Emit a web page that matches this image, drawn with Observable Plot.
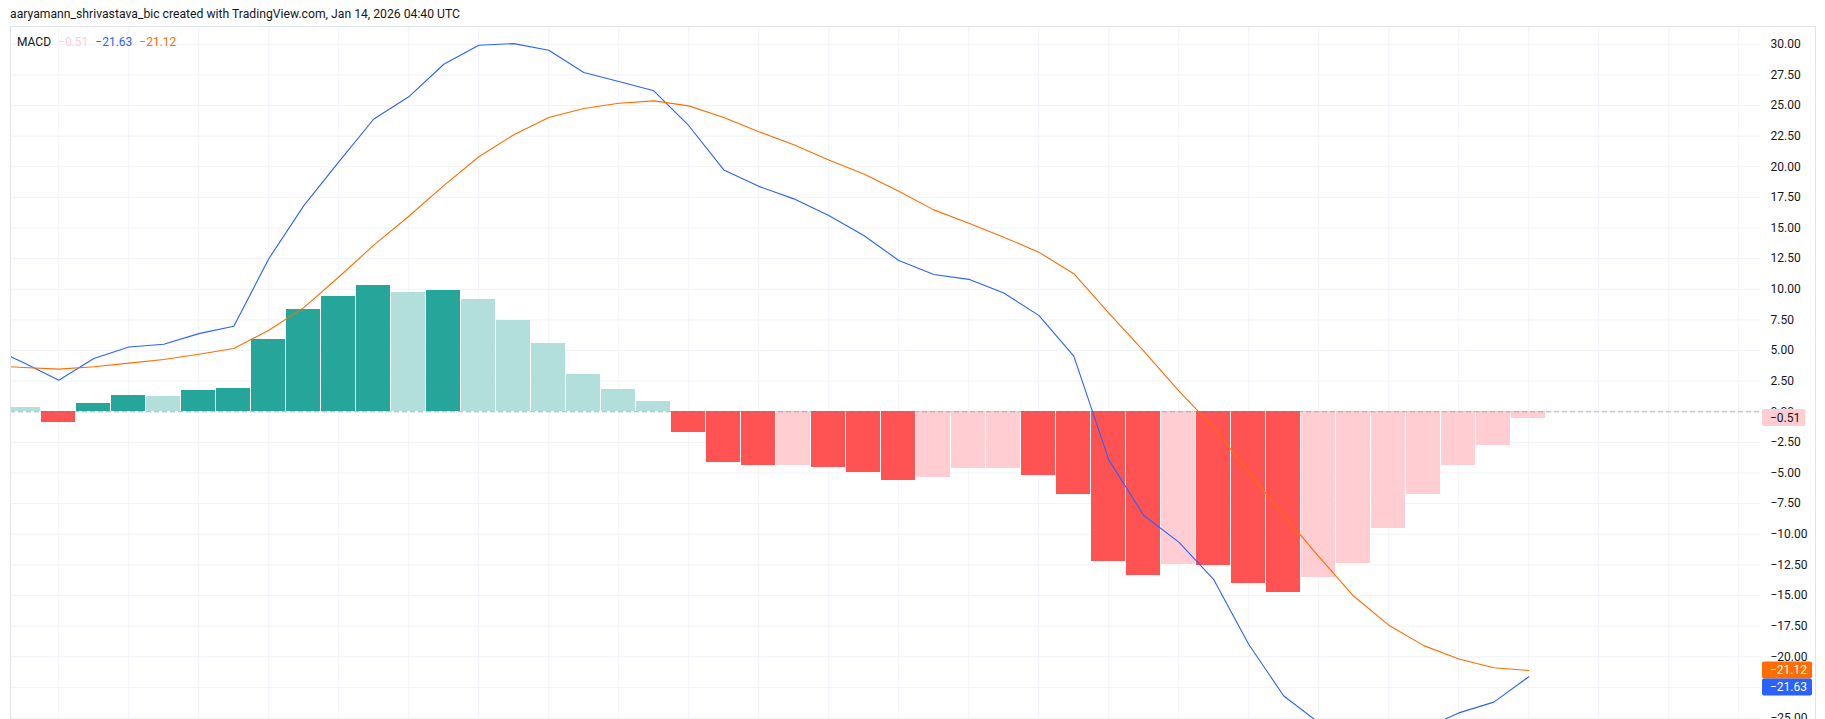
<!DOCTYPE html>
<html>
<head>
<meta charset="utf-8">
<script src="https://cdn.jsdelivr.net/npm/d3@7"></script>
<script src="https://cdn.jsdelivr.net/npm/@observablehq/plot@0.6"></script>
<style>
html, body { margin: 0; padding: 0; background: #ffffff; }
#wrap { position: relative; width: 1825px; height: 719px; overflow: hidden;
  font-family: Roboto, "Liberation Sans", sans-serif; color: #131722; }
#chart { position: absolute; left: 0; top: 0; }
#border { position: absolute; left: 10px; top: 26px; width: 1804px; height: 720px;
  border: 1px solid #E0E3EB; pointer-events: none; }
#header { position: absolute; left: 10px; top: 6px; font-size: 12.2px; line-height: 16px; white-space: nowrap; }
#legend { position: absolute; left: 17px; top: 34px; font-size: 12px; line-height: 16px; white-space: nowrap; }
#legend span { margin-right: 7px; }
</style>
</head>
<body>
<div id="wrap">
  <div id="chart"></div>
  <div id="border"></div>
  <div id="header"></div>
  <div id="legend"></div>
</div>
<script>
// ---- Data (bar index -1 is just off the left edge) ----
const barIndex = d3.range(-1, 44);
const histogram = [
  1.58, 0.38, -0.90, 0.71, 1.36, 1.28, 1.77, 1.93, 5.92, 8.36,
  9.42, 10.31, 9.75, 9.91, 9.17, 7.46, 5.59, 3.07, 1.85, 0.87,
  -1.72, -4.16, -4.41, -4.38, -4.57, -4.97, -5.63, -5.38, -4.67, -4.59,
  -5.22, -6.77, -12.24, -13.38, -12.47, -12.51, -14.03, -14.76, -13.55, -12.41,
  -9.56, -6.78, -4.42, -2.79, -0.51
];
const macdLine = [
  5.33, 4.00, 2.58, 4.35, 5.29, 5.51, 6.38, 6.98, 12.49, 16.83,
  20.40, 23.90, 25.71, 28.37, 29.92, 30.05, 29.51, 27.69, 26.96, 26.20,
  23.35, 19.74, 18.40, 17.38, 16.02, 14.39, 12.35, 11.21, 10.81, 9.69,
  7.87, 4.54, -3.93, -8.47, -10.64, -13.71, -19.00, -23.20, -25.38, -27.47,
  -26.98, -25.87, -24.58, -23.70, -21.63
];
const signalLine = [
  3.75, 3.62, 3.48, 3.67, 3.97, 4.27, 4.70, 5.16, 6.65, 8.50,
  11.00, 13.60, 15.96, 18.46, 20.82, 22.61, 24.02, 24.76, 25.19, 25.38,
  24.97, 24.02, 22.86, 21.80, 20.55, 19.41, 18.00, 16.48, 15.39, 14.25,
  13.03, 11.27, 8.06, 4.95, 1.70, -1.30, -4.95, -8.46, -11.83, -15.06,
  -17.42, -19.09, -20.18, -20.90, -21.12
];
const yTicks = d3.range(-25, 30.01, 2.5);
const xGrid = d3.range(1, 50, 2);
const headerText = "aaryamann_shrivastava_bic created with TradingView.com, Jan 14, 2026 04:40 UTC";
const indicatorName = "MACD";

// ---- Colours ----
const C = { up: "#26A69A", upFade: "#B2DFDB", down: "#FF5252", downFade: "#FFCDD2",
  macd: "#2962FF", signal: "#FF6D00", grid: "#F0F3FA", text: "#131722" };

const rows = barIndex.map((i, k) => ({
  i, hist: histogram[k], macd: macdLine[k], signal: signalLine[k],
  prev: k > 0 ? histogram[k - 1] : histogram[k]
}));
const barColor = d => d.hist >= 0
  ? (d.hist > d.prev ? C.up : C.upFade)
  : (d.hist < d.prev ? C.down : C.downFade);

const fmt = d3.format(".2f");
const FONT = 'Roboto, "Liberation Sans", sans-serif';

const plot = Plot.plot({
  width: 1825,
  height: 719,
  marginTop: 26,
  marginBottom: 0,
  marginLeft: 10,
  marginRight: 65,
  style: { fontFamily: FONT, fontSize: "12px", color: C.text, background: "transparent", overflow: "visible" },
  x: { type: "linear", domain: [-0.38, 49.62], axis: null },
  y: { domain: [-25.12, 31.45] },
  marks: [
    Plot.gridY(yTicks, { stroke: C.grid, strokeOpacity: 1 }),
    Plot.gridX(xGrid, { stroke: C.grid, strokeOpacity: 1 }),
    Plot.rect(rows, {
      x1: d => d.i - 0.5, x2: d => d.i + 0.5, y1: 0, y2: "hist",
      fill: barColor, insetLeft: 0.5, insetRight: 0.5, clip: true, shapeRendering: "crispEdges"
    }),
    Plot.ruleY([0], { stroke: "#787B86", strokeOpacity: 0.55, strokeDasharray: "5,3" }),
    Plot.line(rows, { x: "i", y: "macd", stroke: C.macd, strokeWidth: 1.1, clip: true }),
    Plot.line(rows, { x: "i", y: "signal", stroke: C.signal, strokeWidth: 1.1, clip: true }),
    Plot.axisY(yTicks, {
      anchor: "right", tickSize: 0, tickPadding: 10, tickFormat: fmt,
      fontSize: 12, fill: C.text, label: null
    })
  ]
});
document.getElementById("chart").appendChild(plot);

// ---- Header & legend ----
document.getElementById("header").textContent = headerText;
const last = rows[rows.length - 1];
const legend = d3.select("#legend");
legend.append("span").style("color", C.text).text(indicatorName);
legend.append("span").style("color", C.downFade).text(fmt(last.hist));
legend.append("span").style("color", C.macd).text(fmt(last.macd));
legend.append("span").style("color", C.signal).text(fmt(last.signal));

// ---- Last-value labels on the price scale ----
const ys = plot.scale("y");
const svg = d3.select(plot);
const labelH = 17;
const boxX = 1762;
const textX = 1770;
const labels = [
  { v: last.hist, bg: C.downFade, fg: C.text },
  { v: last.signal, bg: C.signal, fg: "#ffffff" },
  { v: last.macd, bg: C.macd, fg: "#ffffff" }
];
labels.forEach(l => { l.cy = ys.apply(l.v); });
// avoid overlap: push lower labels down
const sorted = labels.slice(1).sort((a, b) => a.cy - b.cy);
for (let k = 1; k < sorted.length; k++) {
  if (sorted[k].cy - sorted[k - 1].cy < labelH) sorted[k].cy = sorted[k - 1].cy + labelH;
}
labels.forEach(l => {
  const g = svg.append("g").attr("text-anchor", "start");
  const r = g.append("rect").attr("fill", l.bg).attr("rx", 2).attr("ry", 2);
  const t = g.append("text")
    .attr("x", textX).attr("y", l.cy).attr("dy", "0.35em")
    .attr("text-anchor", "start")
    .attr("fill", l.fg).attr("font-family", FONT).attr("font-size", 12)
    .text(fmt(l.v));
  const w = t.node().getComputedTextLength();
  r.attr("x", boxX).attr("y", l.cy - labelH / 2).attr("width", (textX - boxX) + w + 5).attr("height", labelH);
});
</script>
</body>
</html>
